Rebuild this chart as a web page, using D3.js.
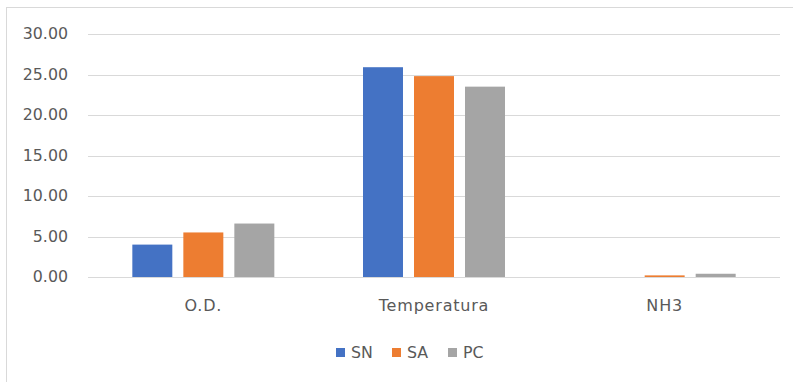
<!DOCTYPE html>
<html><head><meta charset="utf-8">
<script src="https://cdn.jsdelivr.net/npm/d3@7"></script>
<style>body{margin:0;background:#fff}svg{display:block}text{font-family:"DejaVu Sans",sans-serif;fill:#595959}</style>
</head><body><svg id="c" width="793" height="382"></svg>
<script>
const categories = ["O.D.", "Temperatura", "NH3"];
const seriesNames = ["SN", "SA", "PC"];
const SN = [4.0, 25.9, 0.0];
const SA = [5.5, 24.8, 0.2];
const PC = [6.6, 23.5, 0.4];
const yTicks = [0, 5, 10, 15, 20, 25, 30];
const colors = ["#4472c4", "#ed7d31", "#a5a5a5"];
const seriesData = [SN, SA, PC];

const FONT = "DejaVu Sans";
const svg = d3.select("#c");
svg.append("rect").attr("x",6.5).attr("y",7.5).attr("width",800).attr("height",400)
  .attr("fill","none").attr("stroke","#d9d9d9");

const x = d3.scaleBand().domain(categories).range([88,780]);
const y = d3.scaleLinear().domain([0,30]).range([277,34]);
const xs = d3.scaleBand().domain(seriesNames).range([0,142]).paddingInner(0.216);

svg.append("g").selectAll("line").data(yTicks).join("line")
  .attr("x1",88).attr("x2",780).attr("y1",d=>Math.round(y(d))+0.5).attr("y2",d=>Math.round(y(d))+0.5)
  .attr("stroke","#d9d9d9").attr("stroke-width",1);

const yAxis = d3.axisLeft(y).tickValues(yTicks).tickFormat(d3.format(".2f")).tickSize(0).tickPadding(0);
const ya = svg.append("g").attr("transform","translate(68,0)").call(yAxis);
ya.select(".domain").remove();
ya.selectAll("text").attr("dy","0.3em").style("font-size","15.8px").style("fill","#595959").style("font-family",FONT);

const xAxis = d3.axisBottom(x).tickSize(0).tickPadding(0);
const xa = svg.append("g").call(xAxis);
xa.select(".domain").remove();
xa.selectAll("text").attr("y",311).attr("dy",null).style("font-size","16px")
  .style("letter-spacing","0.8px").style("fill","#595959").style("font-family",FONT);

categories.forEach((c,i)=>{
  const gx = x(c) + x.bandwidth()/2 - 142/2;
  seriesNames.forEach((s,j)=>{
    const v = seriesData[j][i];
    if (v<=0) return;
    svg.append("rect").attr("x",gx+xs(s)).attr("width",xs.bandwidth())
      .attr("y",y(v)).attr("height",y(0)-y(v)).attr("fill",colors[j]);
  });
});

const legendX = [336, 392, 448];
const lg = svg.append("g");
seriesNames.forEach((s,j)=>{
  lg.append("rect").attr("x",legendX[j]).attr("y",348).attr("width",9).attr("height",9).attr("fill",colors[j]);
  lg.append("text").attr("x",legendX[j]+15).attr("y",357.5)
    .style("font-size","15.8px").style("font-family",FONT).text(s);
});
</script></body></html>
